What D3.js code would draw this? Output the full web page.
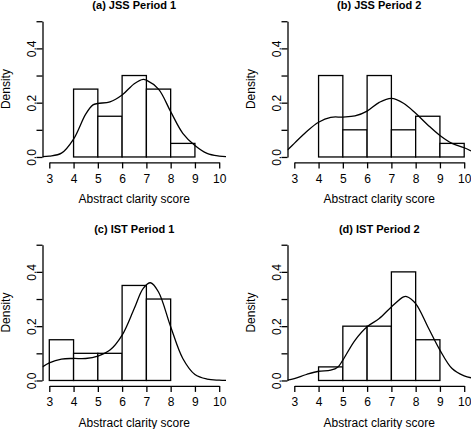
<!DOCTYPE html>
<html>
<head>
<meta charset="utf-8">
<script src="https://cdn.jsdelivr.net/npm/d3@7"></script>
<style>
  html, body { margin: 0; padding: 0; background: #fff; }
  svg { display: block; }
  text { font-family: "Liberation Sans", Arial, Helvetica, sans-serif; fill: #000; }
</style>
</head>
<body>
<svg id="chart" width="471" height="429"></svg>
<script>
// ---- data ----
const panelTitles = ["(a) JSS Period 1", "(b) JSS Period 2", "(c) IST Period 1", "(d) IST Period 2"];
const xTicks = [3, 4, 5, 6, 7, 8, 9, 10];
const yTicks = [0, 0.1, 0.2, 0.3, 0.4, 0.5];
const yTickLabels = ["0.0", "", "0.2", "", "0.4", ""];
const xLabel = "Abstract clarity score";
const yLabel = "Density";

// histogram bins (left edge, width 1) and densities
const binStartsA = [4, 5, 6, 7, 8];
const densA = [0.25, 0.15, 0.30, 0.25, 0.05];
const binStartsB = [4, 5, 6, 7, 8, 9];
const densB = [0.30, 0.10, 0.30, 0.10, 0.15, 0.05];
const binStartsC = [3, 4, 5, 6, 7];
const densC = [0.15, 0.10, 0.10, 0.35, 0.30];
const binStartsD = [4, 5, 6, 7, 8];
const densD = [0.05, 0.20, 0.20, 0.40, 0.15];

// density curves
const curveAx = [2.72, 3.0, 3.5, 4.0, 4.5, 4.8, 5.0, 5.5, 6.0, 6.5, 6.87, 7.0, 7.5, 8.0, 8.5, 9.0, 9.5, 10.0, 10.28];
const curveAy = [0.001, 0.003, 0.014, 0.066, 0.158, 0.192, 0.197, 0.203, 0.228, 0.270, 0.286, 0.283, 0.250, 0.167, 0.087, 0.042, 0.013, 0.003, 0.001];
const curveBx = [2.72, 3.0, 3.5, 4.0, 4.5, 5.0, 5.5, 6.0, 6.5, 7.0, 7.5, 8.0, 8.5, 9.0, 9.5, 10.0, 10.28];
const curveBy = [0.026, 0.050, 0.093, 0.128, 0.146, 0.147, 0.151, 0.169, 0.201, 0.216, 0.198, 0.161, 0.118, 0.079, 0.050, 0.034, 0.022];
const curveCx = [2.72, 3.0, 3.5, 4.0, 4.5, 5.0, 5.5, 6.0, 6.5, 6.87, 7.17, 7.5, 8.0, 8.5, 9.0, 9.5, 10.0, 10.28];
const curveCy = [0.050, 0.065, 0.079, 0.081, 0.081, 0.090, 0.112, 0.167, 0.265, 0.339, 0.360, 0.326, 0.198, 0.081, 0.022, 0.005, 0.001, 0.000];
const curveDx = [2.72, 3.0, 3.5, 4.0, 4.5, 4.8, 5.0, 5.5, 6.0, 6.5, 7.0, 7.5, 7.63, 8.0, 8.5, 9.0, 9.5, 10.0, 10.28];
const curveDy = [0.001, 0.007, 0.022, 0.034, 0.038, 0.050, 0.075, 0.148, 0.198, 0.228, 0.271, 0.308, 0.309, 0.283, 0.198, 0.112, 0.044, 0.017, 0.010];

const panels = [
  { title: panelTitles[0], bins: binStartsA, dens: densA, cx: curveAx, cy: curveAy, dx: 0,   dy: 0 },
  { title: panelTitles[1], bins: binStartsB, dens: densB, cx: curveBx, cy: curveBy, dx: 245, dy: 0 },
  { title: panelTitles[2], bins: binStartsC, dens: densC, cx: curveCx, cy: curveCy, dx: 0,   dy: 223.5 },
  { title: panelTitles[3], bins: binStartsD, dens: densD, cx: curveDx, cy: curveDy, dx: 245, dy: 223.5 }
];

// ---- layout ----
const plotLeft = 42.5, plotRight = 226.0, plotTop = 15.8, plotBottom = 162.4;
const xDomain = [2.72, 10.28];
const yDomain = [-0.02, 0.52];
const sw = 1.3;

const svg = d3.select("#chart");

panels.forEach((p, i) => {
  const g = svg.append("g").attr("transform", `translate(${p.dx},${p.dy})`);
  const x = d3.scaleLinear().domain(xDomain).range([plotLeft, plotRight]);
  const y = d3.scaleLinear().domain(yDomain).range([plotBottom, plotTop]);

  const clipId = "clip" + i;
  g.append("clipPath").attr("id", clipId)
    .append("rect").attr("x", plotLeft).attr("y", plotTop)
    .attr("width", plotRight - plotLeft).attr("height", plotBottom - plotTop);

  // bars
  g.append("g").selectAll("rect").data(p.bins.map((b, k) => ({ b, d: p.dens[k] })))
    .join("rect")
    .attr("x", d => x(d.b))
    .attr("width", d => x(d.b + 1) - x(d.b))
    .attr("y", d => y(d.d))
    .attr("height", d => y(0) - y(d.d))
    .attr("fill", "#fff")
    .attr("stroke", "#000")
    .attr("stroke-width", sw);

  // density curve
  const pts = p.cx.map((v, k) => [v, p.cy[k]]);
  const line = d3.line().x(d => x(d[0])).y(d => y(d[1])).curve(d3.curveCatmullRom.alpha(0.5));
  g.append("path").datum(pts)
    .attr("clip-path", `url(#${clipId})`)
    .attr("d", line)
    .attr("fill", "none")
    .attr("stroke", "#000")
    .attr("stroke-width", sw);

  // x axis (line spans first to last tick)
  const xa = x.copy().domain([3, 10]).range([x(3), x(10)]);
  const gx = g.append("g").attr("transform", `translate(0,${plotBottom})`)
    .call(d3.axisBottom(xa).tickValues(xTicks).tickSize(6).tickSizeOuter(0).tickPadding(5.6).tickFormat(d3.format("d")));
  gx.selectAll("text").style("font-size", "12px");

  // y axis
  const ya = y.copy().domain([0, 0.5]).range([y(0), y(0.5)]);
  const gy = g.append("g").attr("transform", `translate(${plotLeft},0)`)
    .call(d3.axisLeft(ya).tickValues(yTicks).tickSize(6).tickSizeOuter(0).tickFormat((d, k) => yTickLabels[k]));
  gy.selectAll("text")
    .attr("transform", "rotate(-90)")
    .attr("x", 0).attr("y", -7).attr("dy", 0)
    .attr("text-anchor", "middle")
    .style("font-size", "12px");

  [gx, gy].forEach(a => {
    a.selectAll("path.domain").attr("stroke", "#000").attr("stroke-width", sw);
    a.selectAll("line").attr("stroke", "#000").attr("stroke-width", sw);
  });

  // title
  g.append("text")
    .attr("x", (plotLeft + plotRight) / 2).attr("y", 9)
    .attr("text-anchor", "middle")
    .style("font-size", "11px").style("font-weight", "bold")
    .text(p.title);

  // x label
  g.append("text")
    .attr("x", (plotLeft + plotRight) / 2).attr("y", 203)
    .attr("text-anchor", "middle")
    .style("font-size", "12px")
    .text(xLabel);

  // y label
  g.append("text")
    .attr("transform", `translate(9.5,${(plotTop + plotBottom) / 2}) rotate(-90)`)
    .attr("text-anchor", "middle")
    .style("font-size", "12px")
    .text(yLabel);
});
</script>
</body>
</html>
